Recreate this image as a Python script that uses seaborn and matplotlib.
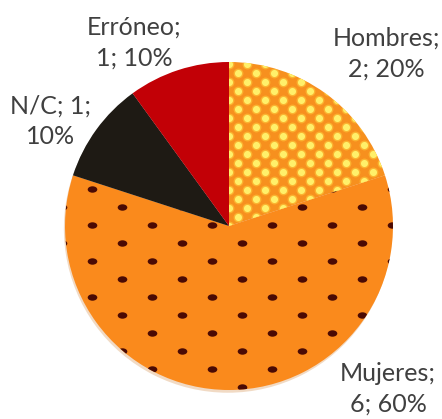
import numpy as np
import matplotlib
matplotlib.use("Agg")
import matplotlib.pyplot as plt
from matplotlib.path import Path
from matplotlib.transforms import Affine2D
import seaborn as sns

# ── data ──────────────────────────────────────────────
labels = ["Hombres", "Mujeres", "N/C", "Erróneo"]
counts = [2, 6, 1, 1]
percents = [20, 60, 10, 10]

sns.set_style("white")
plt.rcParams["font.family"] = ["Lato", "DejaVu Sans"]

# ── style ─────────────────────────────────────────────
base_colors = ["#F7901E", "#FA8A1C", "#1E1A14", "#C20006"]
dot_colors = ["#FFF06A", "#4A0A04", None, None]
label_pos = [(0.96, 1.05), (0.97, -0.99), (-1.09, 0.64), (-0.58, 1.12)]
label_text = [f"{labels[0]};\n{counts[0]}; {percents[0]}%",
              f"{labels[1]};\n{counts[1]}; {percents[1]}%",
              f"{labels[2]}; {counts[2]};\n{percents[2]}%",
              f"{labels[3]};\n{counts[3]}; {percents[3]}%"]

W, H = 442, 419
cx, cy, r = 229, 226, 164

fig = plt.figure(figsize=(W / 100, H / 100), dpi=100)
ax = fig.add_axes([(cx - r) / W, (H - cy - r) / H, 2 * r / W, 2 * r / H])

wedges, _ = ax.pie(
    counts,
    colors=base_colors,
    startangle=90,
    counterclock=False,
    radius=1,
    wedgeprops=dict(linewidth=0),
    shadow=dict(ox=-0.005, oy=-0.012, shade=0.2, alpha=0.25),
)

# dotted fill patterns, clipped to wedges
px = 1.0 / r
# Hombres: dense yellow dots
gx, gy = np.meshgrid(np.arange(-1.1, 1.1, 18 * px), np.arange(-1.1, 1.1, 9 * px))
gx = gx + (np.round(gy / (9 * px)) % 2) * 9 * px
sc = ax.scatter(gx.ravel(), gy.ravel(), s=50, color="#FFD040", alpha=0.55, linewidths=0)
sc.set_clip_path(wedges[0])
sc = ax.scatter(gx.ravel(), gy.ravel(), s=26, color=dot_colors[0], linewidths=0)
sc.set_clip_path(wedges[0])

# Mujeres: sparse dark (slightly oval) dots
oval = Path.unit_circle().transformed(Affine2D().scale(1.5, 1.0))
gx, gy = np.meshgrid(np.arange(-1.2, 1.2, 60 * px), np.arange(-1.2, 1.2, 18 * px))
gx = gx + (np.round(gy / (18 * px)) % 2) * 30 * px
sc = ax.scatter(gx.ravel(), gy.ravel(), s=48, color=dot_colors[1], marker=oval,
                linewidths=0)
sc.set_clip_path(wedges[1])

for txt, (x, y) in zip(label_text, label_pos):
    ax.text(x, y, txt, ha="center", va="center", fontsize=18,
            color="#404040", linespacing=1.4)

ax.set_xlim(-1, 1)
ax.set_ylim(-1, 1)
ax.set_aspect("equal")
ax.axis("off")

fig.savefig("out.png", dpi=100)
